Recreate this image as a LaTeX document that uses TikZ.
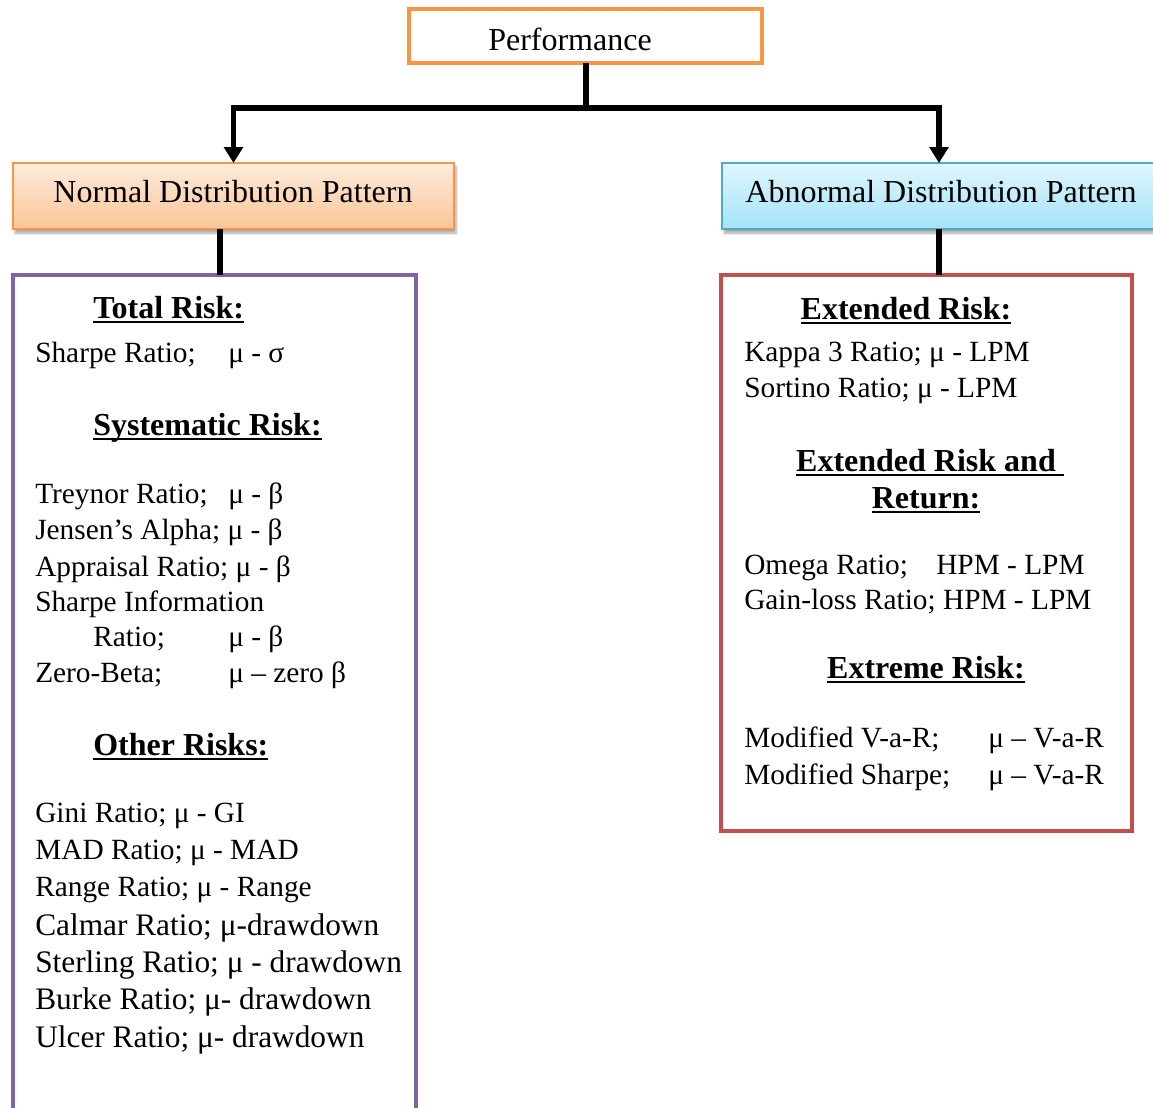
\documentclass[tikz,border=0pt]{standalone}
\usepackage{fontspec}
\setmainfont{Liberation Serif}
\newcommand\myul[1]{\setbox0=\hbox{#1}\dimen0=\wd0\rlap{\box0}\rule[-4pt]{\dimen0}{1.6pt}}
\usetikzlibrary{arrows.meta,fit,shadows.blur}
\definecolor{orng}{HTML}{F79646}
\definecolor{ortop}{HTML}{FEEBDD}
\definecolor{orbot}{HTML}{FBC596}
\definecolor{bltop}{HTML}{E0F6FD}
\definecolor{blbot}{HTML}{A4E3F8}
\definecolor{blbord}{HTML}{4BACC6}
\definecolor{purp}{HTML}{8064A2}
\definecolor{redb}{HTML}{C0504D}
\tikzset{
  conn/.style={line width=4.3pt},
  arr/.style={conn,-{Triangle[width=14pt,length=12pt]}},
  hdr/.style={inner sep=0pt,outer sep=0pt,line width=1.5pt,font=\fontsize{24}{28}\selectfont,
    blur shadow={shadow xshift=1.5pt,shadow yshift=-3pt,shadow blur steps=6,shadow opacity=35}},
  panel/.style={draw,inner sep=0pt,outer sep=0pt,line width=3pt},
  txt/.style={anchor=base west,inner sep=0pt,font=\fontsize{22}{26}\selectfont},
  txtg/.style={anchor=base west,inner sep=0pt,font=\fontsize{23.5}{28}\selectfont},
  head/.style={anchor=base west,inner sep=0pt,font=\fontsize{24}{28}\selectfont\bfseries},
  headc/.style={anchor=base,inner sep=0pt,font=\fontsize{24}{28}\selectfont\bfseries},
}
\begin{document}
\begin{tikzpicture}[x=0.75pt,y=-0.75pt]
\useasboundingbox (0,0) rectangle (1153,1107);
\clip (0,0) rectangle (1153,1107);

% top box
\node[draw=orng,line width=3pt,inner sep=0pt,outer sep=0pt,fill=white,
  font=\fontsize{24}{28}\selectfont,fit={(409,9) (762,63)}] (perf) {};
\node[inner sep=0pt,font=\fontsize{24}{28}\selectfont,anchor=base] (perft) at (570,50) {Performance};

% headers
\node[hdr,draw=orng,top color=ortop,bottom color=orbot,fit={(13,163) (454,229)}] (normal) {};
\node[inner sep=0pt,font=\fontsize{24}{28}\selectfont,anchor=base] (normalt) at (233,202) {Normal Distribution Pattern};
\node[hdr,draw=blbord,top color=bltop,bottom color=blbot,fit={(722,163) (1162,229)}] (abnormal) {};
\node[inner sep=0pt,font=\fontsize{24}{28}\selectfont,anchor=base] (abnormalt) at (941,202) {Abnormal Distribution Pattern};

% panels
\node[panel,draw=purp,fit={(13,275) (416,1140)}] (leftbox) {};
\node[panel,draw=redb,fit={(721,275) (1132,831)}] (rightbox) {};

% connectors
\coordinate (j) at (586,108);
\coordinate (lc) at (220,0);
\coordinate (rc) at (939,0);
\coordinate (ra) at (939,0);
\draw[conn] (perf.south -| j) -- (j);
\draw[arr] (j) -| (normal.north);
\draw[arr] (j) -| (abnormal.north -| ra);
\draw[conn] (normal.south -| lc) -- (leftbox.north -| lc);
\draw[conn] (abnormal.south -| rc) -- (rightbox.north -| rc);

% left texts
\node[head] (l1) at (93,318) {\myul{Total Risk:}};
\node[txt] (l2) at (35,362) {\makebox[144.75pt][l]{Sharpe Ratio;}μ - σ};
\node[head] (l3) at (93,435) {\myul{Systematic Risk:}};
\node[txt] (l4) at (35,503) {\makebox[144.75pt][l]{Treynor Ratio;}μ - β};
\node[txt] (l5) at (35,539) {Jensen’s Alpha; μ - β};
\node[txt] (l6) at (35,576) {Appraisal Ratio; μ - β};
\node[txt] (l7) at (35,611) {Sharpe Information};
\node[txt] (l8) at (93,646) {\makebox[101.25pt][l]{Ratio;}μ - β};
\node[txt] (l9) at (35,682) {\makebox[144.75pt][l]{Zero-Beta;}μ – zero β};
\node[head] (l10) at (93,755) {\myul{Other Risks:}};
\node[txt] (l11) at (35,822) {Gini Ratio; μ - GI};
\node[txt] (l12) at (35,859) {MAD Ratio; μ - MAD};
\node[txt] (l13) at (35,896) {Range Ratio; μ - Range};
\node[txtg] (l14) at (35,935) {Calmar Ratio; μ-drawdown};
\node[txtg] (l15) at (35,972) {Sterling Ratio; μ - drawdown};
\node[txtg] (l16) at (35,1009) {Burke Ratio; μ- drawdown};
\node[txtg] (l17) at (35,1047) {Ulcer Ratio; μ- drawdown};

% right texts
\node[headc] (r1) at (906,319) {\myul{Extended Risk:}};
\node[txt] (r2) at (744,361) {Kappa 3 Ratio; μ - LPM};
\node[txt] (r3) at (744,397) {Sortino Ratio; μ - LPM};
\node[headc] (r4) at (930,471) {\myul{Extended Risk and\ }};
\node[headc] (r5) at (926,508) {\myul{Return:}};
\node[txt] (r6) at (744,574) {\makebox[144pt][l]{Omega Ratio;}HPM - LPM};
\node[txt] (r7) at (744,609) {Gain-loss Ratio; HPM - LPM};
\node[headc] (r8) at (926,678) {\myul{Extreme Risk:}};
\node[txt] (r9) at (744,747) {\makebox[183pt][l]{Modified V-a-R;}μ – V-a-R};
\node[txt] (r10) at (744,784) {\makebox[183pt][l]{Modified Sharpe;}μ – V-a-R};
\end{tikzpicture}
\end{document}
